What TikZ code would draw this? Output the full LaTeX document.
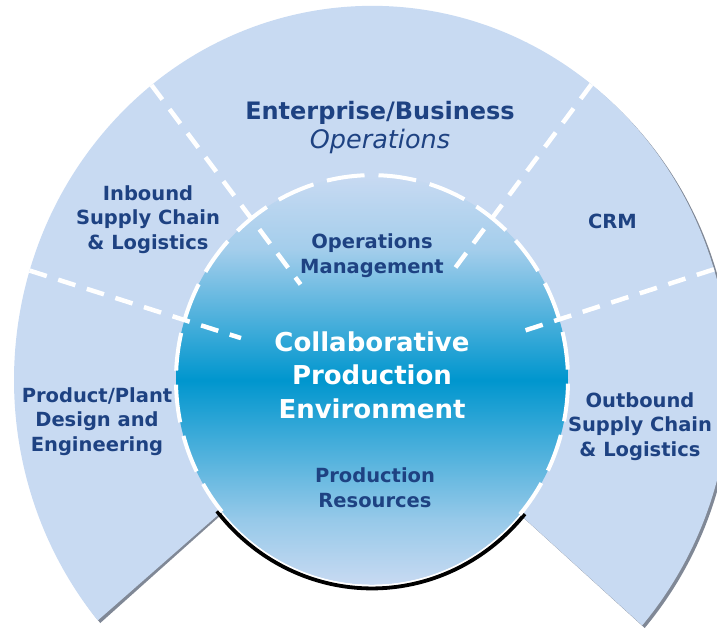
\documentclass[tikz,border=0pt]{standalone}
\usepackage{fontspec}
\setmainfont{DejaVu Sans}[BoldFont={DejaVu Sans Bold},ItalicFont={DejaVu Sans Oblique}]
\definecolor{ringblue}{RGB}{200,218,242}
\definecolor{coreblue}{RGB}{0,150,206}
\definecolor{labelblue}{RGB}{30,66,130}
\definecolor{shadowgrey}{RGB}{128,136,150}
\colorlet{upperblue}{ringblue!82!coreblue}
\colorlet{lowerblue}{ringblue!75!coreblue}
\pgfdeclareverticalshading{coreshade}{100bp}{color(0bp)=(ringblue); color(25bp)=(ringblue);
  color(33bp)=(lowerblue); color(50bp)=(coreblue); color(66bp)=(upperblue);
  color(75bp)=(ringblue); color(100bp)=(ringblue)}

\begin{document}
\begin{tikzpicture}[x=1pt,y=1.045pt,
  lbl/.style={text=labelblue,font=\fontsize{19.5}{24.5}\selectfont\bfseries,align=center},
  seam/.style={white,line width=4.5pt,dash pattern=on 18pt off 12pt},
  rim/.style={white,line width=4pt,dash pattern=on 38pt off 14pt}]
\useasboundingbox (-372,-237.3) rectangle (345,363.6);
\coordinate (c) at (0,0);

% ring sectors
\fill[shadowgrey,shift={(2.5,-2.5)}] (c) -- (-41:358) arc[start angle=-41,end angle=220,radius=358] -- cycle;
\fill[ringblue] (c) -- (-41:358) arc[start angle=-41,end angle=220,radius=358] -- cycle;

% core
\draw[black,line width=3.8pt] (219:199.5) arc[start angle=219,end angle=320,radius=199.5];
\shade[shading=coreshade] (c) circle[radius=196];
\draw[white,line width=1pt] (219:196.5) arc[start angle=219,end angle=320,radius=196.5];
\draw[rim] (-41:196) arc[start angle=-41,end angle=220,radius=196];
\foreach \a/\r in {128/116,52.2/125,163/137,17.2/151}
  \draw[seam] (\a:358) -- (\a:\r);

\node[lbl,font=\fontsize{24}{29}\selectfont\bfseries] (ent) at (8,241.6) {Enterprise/Business\\{\fontsize{25.5}{29}\selectfont\mdseries\itshape Operations}};
\node[lbl] (inb) at (-224,153.6) {Inbound\\Supply Chain\\\& Logistics};
\node[lbl] (crm) at (240.5,151.9) {CRM};
\node[lbl] (ops) at (0,119.1) {Operations\\Management};
\node[lbl,text=white,font=\fontsize{26}{33.5}\selectfont\bfseries] (collab) at (0,4.8) {Collaborative\\Production\\Environment};
\node[lbl] (prod) at (-275,-39.7) {Product/Plant\\Design and\\Engineering};
\node[lbl] (res) at (3,-103.3) {Production\\Resources};
\node[lbl] (outb) at (268,-44.5) {Outbound\\Supply Chain\\\& Logistics};
\end{tikzpicture}
\end{document}
